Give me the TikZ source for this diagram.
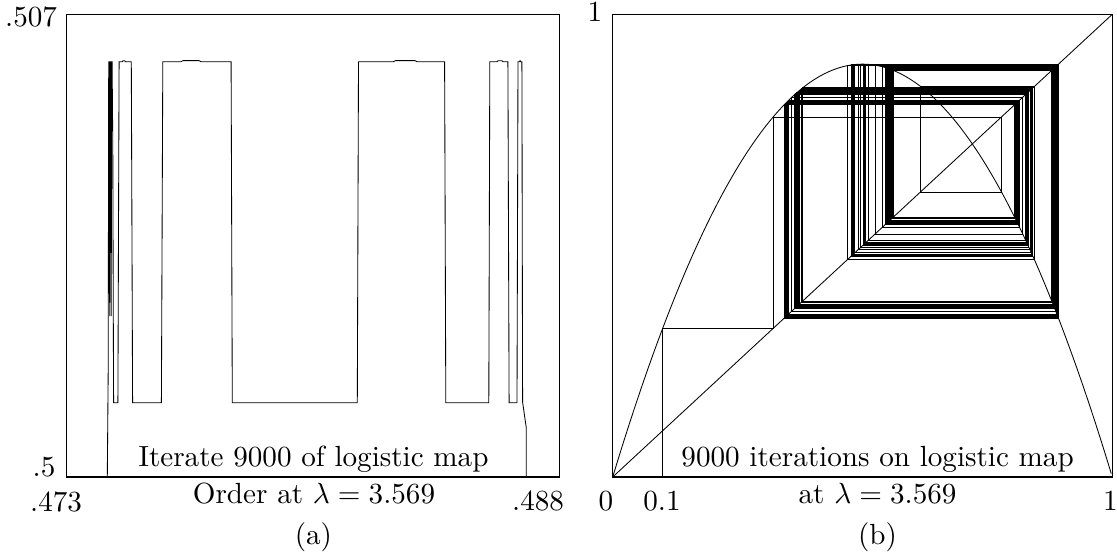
\documentclass[tikz,border=0pt]{standalone}
\usepackage{graphicx}
\tikzset{
  frame/.style={line width=1.1pt, black},
  trace/.style={line width=0.85pt, black},
  lbl/.style={inner sep=0pt, anchor=base west},
  clbl/.style={inner sep=0pt, anchor=base}
}
\newcommand{\txt}[1]{\scalebox{2.915}{#1}}
\ExplSyntaxOn
\fp_new:N \l__cw_x_fp
\fp_new:N \l__cw_y_fp
\tl_new:N \l__cw_path_tl
\tl_new:N \l__cw_xs_tl
\tl_new:N \l__cw_ys_tl
\cs_new_protected:Npn \__cw_draw:n #1 { \draw[trace] #1 ; }
\cs_generate_variant:Nn \__cw_draw:n { V }
\cs_new_protected:Npn \CobWeb #1#2#3
 {
  \fp_set:Nn \l__cw_x_fp {#2}
  \tl_set:Nx \l__cw_xs_tl { \fp_eval:n { round(\l__cw_x_fp,5) } }
  \tl_set:Nx \l__cw_path_tl { (\l__cw_xs_tl,0) }
  \int_step_inline:nn {#3}
   {
    \fp_set:Nn \l__cw_y_fp { #1 * \l__cw_x_fp * (1 - \l__cw_x_fp) }
    \tl_set:Nx \l__cw_ys_tl { \fp_eval:n { round(\l__cw_y_fp,5) } }
    \tl_put_right:Nx \l__cw_path_tl
     { --(\l__cw_xs_tl,\l__cw_ys_tl)--(\l__cw_ys_tl,\l__cw_ys_tl) }
    \fp_set_eq:NN \l__cw_x_fp \l__cw_y_fp
    \tl_set_eq:NN \l__cw_xs_tl \l__cw_ys_tl
    \int_compare:nNnT { \int_mod:nn {##1} {150} } = 0
     {
      \__cw_draw:V \l__cw_path_tl
      \tl_set:Nx \l__cw_path_tl { (\l__cw_xs_tl,\l__cw_xs_tl) }
     }
   }
  \__cw_draw:V \l__cw_path_tl
 }
\ExplSyntaxOff
\begin{document}
\begin{tikzpicture}[x=1pt,y=-1pt]
\useasboundingbox (0,0) rectangle (1117,556);
% ---------- panel (a)
\draw[frame] (66.7,14.3) rectangle (559.3,477);
\draw[trace] (107.3,477) -- (108.2,370) -- (108.7,61.7) -- (109.2,61.7) -- (109.7,316) -- (110.2,61.7) -- (110.7,61.7)
 -- (111.2,316) -- (111.7,61.7) -- (112.1,61.7) -- (112.8,146.7) -- (113.3,316.7) -- (113.6,402.7)
 -- (117.9,402.7) -- (119.1,61.7) -- (122.5,61.7) -- (123,60.7) -- (124.8,60.7) -- (125.3,61.7) -- (131.3,61.7) -- (132.6,402.7)
 -- (161.4,402.7) -- (162.8,61.7) -- (181,61.7) -- (183,60.6) -- (199,60.6) -- (201,61.7) -- (231.1,61.7) -- (232.3,402.7)
 -- (357.3,402.7) -- (358.5,61.7) -- (393.5,61.7) -- (395.5,60.6) -- (415,60.6) -- (417,61.7) -- (444.6,61.7) -- (445.8,402.7)
 -- (488.8,402.7) -- (489.8,61.7) -- (497,61.7) -- (498,60.7) -- (502,60.7) -- (503,61.7) -- (507.9,61.7) -- (509.1,402.7)
 -- (517.0,402.7) -- (518.0,61.7) -- (519.5,61.7) -- (520,60.7) -- (520.5,61.7) -- (521.9,61.7) -- (522.6,402) -- (524,412) -- (526.3,428) -- (526.3,477);
\node[lbl] (a507) at (5,26.5) {\txt{.507}};
\node[lbl] (a5) at (32.5,476.5) {\txt{.5}};
\node[lbl] (a473) at (30,511) {\txt{.473}};
\node[lbl] (a488) at (512,510.5) {\txt{.488}};
\node[clbl] (atitle) at (313.5,466) {\txt{Iterate 9000 of logistic map}};
\node[clbl] (aorder) at (314,503) {\txt{Order at $\lambda = 3.569$}};
\node[clbl] (acap) at (313.4,544) {\txt{(a)}};
% ---------- panel (b)
\begin{scope}[shift={(612.7,477)}, x={(499.6pt,0pt)}, y={(0pt,462.7pt)}]
  \draw[frame] (0,0) rectangle (1,1);
  \draw[trace] (0,0) -- (1,1);
  \draw[trace] plot[domain=0:1, samples=301] (\x, {3.569*\x*(1-\x)});
  \CobWeb{3.569}{0.1}{9000}
\end{scope}
\node[lbl] (b1) at (587.5,22) {\txt{1}};
\node[clbl] (b0) at (606,510.5) {\txt{0}};
\node[clbl] (b01) at (662,510.5) {\txt{0.1}};
\node[clbl] (b1r) at (1110.3,510.5) {\txt{1}};
\node[clbl] (btitle) at (877.6,466) {\txt{9000 iterations on logistic map}};
\node[clbl] (bat) at (877.6,503) {\txt{at $\lambda = 3.569$}};
\node[clbl] (bcap) at (877.5,544) {\txt{(b)}};
\end{tikzpicture}
\end{document}
